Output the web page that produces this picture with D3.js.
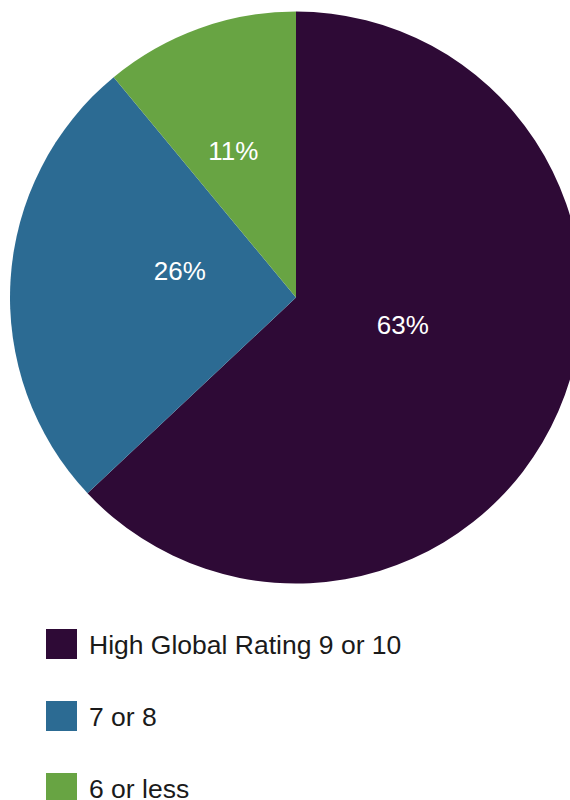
<!DOCTYPE html>
<html>
<head>
<meta charset="utf-8">
<script src="https://cdn.jsdelivr.net/npm/d3@7/dist/d3.min.js"></script>
<style>
  html, body { margin: 0; padding: 0; background: #ffffff; }
  svg { display: block; }
</style>
</head>
<body>
<svg id="chart" width="570" height="800"></svg>
<script>
// ---- data ----
const categories = ["High Global Rating 9 or 10", "7 or 8", "6 or less"];
const values = [63, 26, 11];
const labels = ["63%", "26%", "11%"];
const colors = ["#2e0a36", "#2c6b93", "#68a443"];

// ---- label placement options (fraction of radius, fraction along slice angle) ----
const labelRadiusFrac = [0.407, 0.407, 0.497];
const labelAngleFrac = [0.5, 0.5, 0.34];

const svg = d3.select("#chart");
const cx = 296, cy = 297.5, R = 286;
const font = "'Liberation Sans', Arial, Helvetica, sans-serif";

const pie = d3.pie().sort(null).value(d => d)(values);
const arc = d3.arc().innerRadius(0).outerRadius(R);

const g = svg.append("g").attr("transform", `translate(${cx},${cy})`);
g.selectAll("path.slice").data(pie).join("path")
  .attr("class", "slice")
  .attr("d", arc)
  .attr("fill", (d, i) => colors[i]);

g.selectAll("text.lbl").data(pie).join("text")
  .attr("class", "lbl")
  .attr("transform", (d, i) => {
    const a = d.startAngle + (d.endAngle - d.startAngle) * labelAngleFrac[i];
    const r = R * labelRadiusFrac[i];
    const x = r * Math.sin(a), y = -r * Math.cos(a);
    return `translate(${x},${y - 10})`;
  })
  .attr("text-anchor", "middle")
  .attr("fill", "#ffffff")
  .style("font-family", font)
  .style("font-size", "26px")
  .text((d, i) => labels[i]);

// ---- legend ----
const legend = svg.append("g").attr("transform", "translate(46,629)");
const rowH = 72;
const items = legend.selectAll("g.item").data(categories).join("g")
  .attr("class", "item")
  .attr("transform", (d, i) => `translate(0,${i * rowH})`);
items.append("rect")
  .attr("width", 31).attr("height", 30)
  .attr("fill", (d, i) => colors[i]);
items.append("text")
  .attr("x", 43).attr("y", 25)
  .attr("fill", "#1a1a1a")
  .style("font-family", font)
  .style("font-size", "26.5px")
  .text(d => d);
</script>
</body>
</html>
